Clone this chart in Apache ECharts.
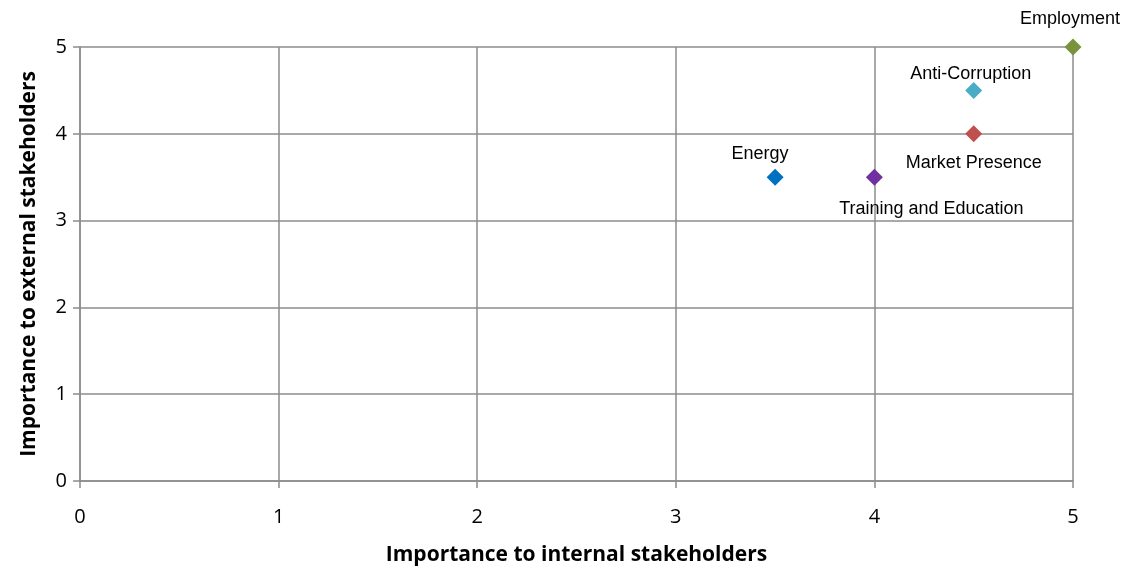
<!DOCTYPE html>
<html>
<head>
<meta charset="utf-8">
<script src="https://cdn.jsdelivr.net/npm/echarts@6/dist/echarts.min.js"></script>
<style>
  html, body { margin: 0; padding: 0; background: #fff; }
  #chart { width: 1129px; height: 571px; }
</style>
</head>
<body>
<div id="chart"></div>
<script>
// Material topics: importance to internal vs external stakeholders
const topics = ['Energy', 'Training and Education', 'Market Presence', 'Anti-Corruption', 'Employment'];
const internalScore = [3.5, 4, 4.5, 4.5, 5];
const externalScore = [3.5, 3.5, 4, 4.5, 5];
const axisTicks = [0, 1, 2, 3, 4, 5];

// Marker colours, one per topic
const topicColors = ['#0070C0', '#7030A0', '#C0504D', '#4BACC6', '#77933C'];
// Label placement relative to each marker [dx, dy]
const labelOffsets = [[-15, -23], [57, 32], [0, 29], [-3, -16], [-3, -28]];

const chart = echarts.init(document.getElementById('chart'));
const gridColor = '#8c8c8c';

const series = topics.map((name, i) => ({
  name,
  type: 'scatter',
  symbol: 'diamond',
  symbolSize: 17,
  itemStyle: { color: topicColors[i], opacity: 1 },
  label: {
    show: true,
    position: 'inside',
    offset: labelOffsets[i],
    formatter: name,
    color: '#000',
    fontFamily: 'Liberation Sans, Arial, sans-serif',
    fontSize: 18
  },
  data: [[internalScore[i], externalScore[i]]]
}));

const tickFont = { fontFamily: 'Open Sans, sans-serif', fontSize: 20, color: '#000' };
const titleFont = { fontFamily: 'Open Sans, sans-serif', fontWeight: 'bold', fontSize: 21, color: '#000' };

chart.setOption({
  animation: false,
  grid: { left: 80, right: 56, top: 47, bottom: 88, containLabel: false },
  xAxis: {
    type: 'value',
    min: axisTicks[0],
    max: axisTicks[axisTicks.length - 1],
    interval: 1,
    name: 'Importance to internal stakeholders',
    nameLocation: 'middle',
    nameGap: 64,
    nameTextStyle: titleFont,
    axisLine: { show: true, lineStyle: { color: gridColor, width: 1.5 } },
    axisTick: { show: true, length: 7, lineStyle: { color: gridColor, width: 1.5 } },
    axisLabel: Object.assign({ margin: 26 }, tickFont),
    splitLine: { show: true, lineStyle: { color: gridColor, width: 1.5 } }
  },
  yAxis: {
    type: 'value',
    min: axisTicks[0],
    max: axisTicks[axisTicks.length - 1],
    interval: 1,
    name: 'Importance to external stakeholders',
    nameLocation: 'middle',
    nameGap: 40,
    nameTextStyle: titleFont,
    axisLine: { show: true, lineStyle: { color: gridColor, width: 1.5 } },
    axisTick: { show: true, length: 7, lineStyle: { color: gridColor, width: 1.5 } },
    axisLabel: Object.assign({ margin: 13 }, tickFont),
    splitLine: { show: true, lineStyle: { color: gridColor, width: 1.5 } }
  },
  series
});
</script>
</body>
</html>
